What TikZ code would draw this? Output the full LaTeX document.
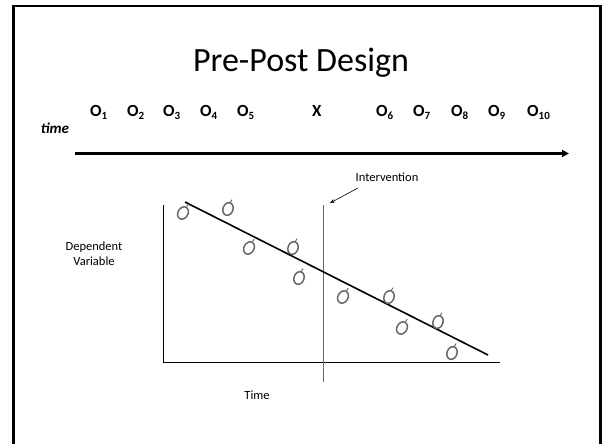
\documentclass[tikz,border=0pt]{standalone}
\usepackage{fontspec}
\setmainfont{Carlito}
\usetikzlibrary{arrows.meta,shapes.geometric}
\newcommand{\osub}[1]{\raisebox{-0.22em}{\fontsize{11}{11}\selectfont #1}}
\begin{document}
\begin{tikzpicture}[x=1pt,y=-1pt,
  obs/.style={font=\fontsize{17}{17}\selectfont\bfseries, anchor=base west, inner sep=0pt},
  lbl/.style={font=\fontsize{12.5}{15}\selectfont, align=center, inner sep=0pt},
  mk/.style={draw=black!60, line width=1.5pt, minimum width=10pt, minimum height=13pt, ellipse, inner sep=0pt}]
\useasboundingbox (0,0) rectangle (602,444);
% frame
\draw[line width=2.6pt] (13.5,460) -- (13.5,6) -- (600.5,6) -- (600.5,460);
% title
\node[font=\fontsize{34}{34}\selectfont] (title) at (301,63) {Pre-Post Design};
% observations
\node[obs] (o1) at (90,116) {O\osub{1}};
\node[obs] (o2) at (127,116) {O\osub{2}};
\node[obs] (o3) at (163,116) {O\osub{3}};
\node[obs] (o4) at (200,116) {O\osub{4}};
\node[obs] (o5) at (237,116) {O\osub{5}};
\node[obs] (x) at (312,116) {X};
\node[obs] (o6) at (376,116) {O\osub{6}};
\node[obs] (o7) at (413,116) {O\osub{7}};
\node[obs] (o8) at (451,116) {O\osub{8}};
\node[obs] (o9) at (488,116) {O\osub{9}};
\node[obs] (o10) at (527,116) {O\osub{10}};
\node[font=\fontsize{15}{15}\selectfont\bfseries\itshape, inner sep=0pt] (time) at (55,128) {time};
% time arrow
\coordinate (ta) at (75,153.5);
\coordinate (tb) at (569,153.5);
\draw[line width=2.4pt, -{Triangle[length=7pt,width=7pt]}] (ta) -- (tb);
% axes
\coordinate (yt) at (163,205);
\coordinate (orig) at (163,362);
\coordinate (xe) at (500,362);
\draw[line width=1pt] (yt) -- (orig) -- (xe);
% intervention line
\coordinate (it) at (323,205);
\coordinate (ib) at (323,382);
\draw[black!60, line width=0.9pt] (it) -- (ib);
% trend line
\coordinate (ls) at (185,202);
\coordinate (le) at (488,355);
\draw[line width=1.6pt] (ls) -- (le);
% labels
\node[lbl] (int) at (387,177) {Intervention};
\coordinate (ia) at (358,188);
\coordinate (ib2) at (330,203);
\draw[-{Stealth[length=5pt]}, line width=0.6pt] (ia) -- (ib2);
\node[lbl] (dv) at (94,254) {Dependent\\Variable};
\node[lbl] (tl) at (257,395) {Time};
% markers
\foreach \i/\p/\q/\r in {1/183/213/-30, 2/228/209/-20, 3/249/248/-30, 4/293/248/-20, 5/299/278/-20, 6/343/297/-30, 7/389/297/-20, 8/402/328/-30, 9/438/322/-20, 10/452/353/-20}{
  \node[mk, rotate=\r] (m\i) at (\p,\q) {};
  \draw[black!60, line width=1pt] (m\i.north) -- ++(1.5,-2.5);
}
\end{tikzpicture}
\end{document}
